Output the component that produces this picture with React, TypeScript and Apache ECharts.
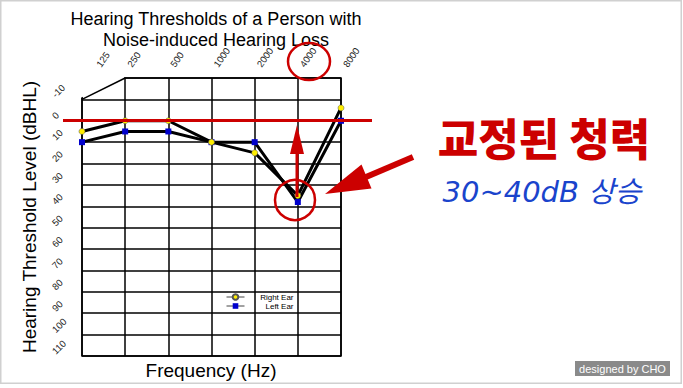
import React, { useEffect, useRef } from "react";
import * as echarts from "echarts";

// ---- data ----
const frequencies = ["125", "250", "500", "1000", "2000", "4000", "8000"];
const rightEar = [5, 0, 0, 10, 15, 35, -6];
const leftEar = [10, 5, 5, 10, 10, 38, 0];
const yMin = -20;
const yMax = 110;
const yStep = 10;
// top-left chamfer of the audiogram frame: [xIndexFrom, yTop, xIndexTo, yMid]
const chamfer = [[0, -20, 1, -10]];

const titleText = "Hearing Thresholds of a Person with\nNoise-induced Hearing Loss";
const yName = "Hearing Threshold Level (dBHL)";
const xName = "Frequency (Hz)";
const noteMain = "교정된 청력";
const noteSub = "30~40dB 상승";
const credit = "designed by CHO";

const RED = "#cc0000";
const ARIAL = "Liberation Sans, Arial, sans-serif";

export default function App() {
  const ref = useRef<HTMLDivElement>(null);

  useEffect(() => {
    if (!ref.current) return;
    const chart = echarts.init(ref.current, null, { renderer: "svg" });

    const txt = (text: string, x: number, y: number, extra: any, z = 100) => ({
      type: "text",
      x,
      y,
      z,
      silent: true,
      style: {
        text,
        align: "center",
        verticalAlign: "middle",
        textAlign: "center",
        textVerticalAlign: "middle",
        ...extra,
      },
    });

    chart.setOption({
      animation: false,
      backgroundColor: "#ffffff",
      title: {
        text: titleText,
        left: 211,
        top: 3,
        textAlign: "center",
        textStyle: {
          fontFamily: ARIAL,
          fontSize: 18,
          fontWeight: "normal",
          color: "#000",
          lineHeight: 21,
        },
      },
      legend: {
        data: ["Right Ear", "Left Ear"],
        orient: "vertical",
        left: 226,
        top: 293,
        itemWidth: 18,
        itemHeight: 7,
        itemGap: 1,
        padding: 0,
        align: "left",
        lineStyle: { width: 1, color: "#444" },
        formatter: (name: string) => `{t|${name}}`,
        textStyle: {
          fontFamily: ARIAL,
          fontSize: 8,
          color: "#000",
          rich: {
            t: { width: 44, align: "right", fontSize: 8, fontFamily: ARIAL, color: "#000" },
          },
        },
      },
      grid: {
        left: 82,
        top: 78,
        width: 259,
        height: 278,
        show: true,
        borderColor: "#000",
        borderWidth: 1.5,
      },
      xAxis: {
        type: "category",
        data: frequencies,
        position: "top",
        boundaryGap: false,
        axisLine: { show: false },
        axisTick: { show: false },
        splitLine: { show: true, lineStyle: { color: "#000", width: 1.5 } },
        axisLabel: {
          interval: 0,
          rotate: 55,
          align: "left",
          verticalAlign: "top",
          margin: 15,
          fontFamily: ARIAL,
          fontSize: 9.5,
          color: "#222",
          formatter: (v: string, i: number) => (i === 0 ? `{f|${v}}` : `{n|${v}}`),
          rich: {
            f: { padding: [10, 0, 0, 7], fontFamily: ARIAL, fontSize: 9.5, color: "#222" },
            n: { fontFamily: ARIAL, fontSize: 9.5, color: "#222" },
          },
        },
      },
      yAxis: {
        type: "value",
        inverse: true,
        min: yMin,
        max: yMax,
        interval: yStep,
        name: yName,
        nameLocation: "middle",
        nameRotate: 90,
        nameGap: 43,
        nameTextStyle: { fontFamily: ARIAL, fontSize: 19, color: "#000" },
        axisLine: { show: false },
        axisTick: { show: false },
        splitLine: { show: true, lineStyle: { color: "#000", width: 1.5 } },
        axisLabel: {
          rotate: 45,
          align: "left",
          verticalAlign: "bottom",
          margin: 25,
          showMinLabel: true,
          showMaxLabel: true,
          fontFamily: ARIAL,
          fontSize: 9.5,
          color: "#222",
          formatter: (v: number) => (v === yMin ? "" : String(v)),
        },
      },
      series: [
        {
          type: "custom",
          name: "frame",
          silent: true,
          z: 1,
          data: chamfer,
          renderItem: (_p: any, api: any) => {
            const a = api.coord([api.value(0), api.value(1)]);
            const b = api.coord([api.value(2), api.value(1)]);
            const m = api.coord([api.value(0), api.value(3)]);
            return {
              type: "group",
              children: [
                {
                  type: "polygon",
                  shape: {
                    points: [
                      [a[0] - 3, a[1] - 3],
                      [b[0] - 0.9, b[1] - 3],
                      [b[0] - 0.9, b[1] + 1],
                      [m[0] - 3, m[1] - 1],
                    ],
                  },
                  style: { fill: "#fff" },
                },
                {
                  type: "line",
                  shape: { x1: b[0], y1: b[1], x2: m[0], y2: m[1] },
                  style: { stroke: "#000", lineWidth: 1.5 },
                },
              ],
            };
          },
        },
        {
          type: "line",
          name: "Left Ear",
          data: leftEar,
          z: 3,
          symbol: "rect",
          symbolSize: 6,
          lineStyle: { color: "#000", width: 3 },
          itemStyle: { color: "#0000cc" },
        },
        {
          type: "line",
          name: "Right Ear",
          data: rightEar,
          z: 4,
          symbol: "circle",
          symbolSize: 6,
          lineStyle: { color: "#000", width: 3 },
          itemStyle: { color: "#ffee00", borderColor: "#555", borderWidth: 0.5 },
        },
      ],
      graphic: [
        {
          type: "rect",
          z: 0,
          silent: true,
          shape: { x: 0.75, y: 0.75, width: 680.5, height: 382.5 },
          style: { fill: "none", stroke: "#d0d0d0", lineWidth: 1.5 },
        },
        {
          type: "line",
          z: 100,
          silent: true,
          shape: { x1: 63, y1: 120.5, x2: 372, y2: 120.5 },
          style: { stroke: RED, lineWidth: 3 },
        },
        {
          type: "ellipse",
          z: 100,
          silent: true,
          shape: { cx: 309, cy: 61.5, rx: 21, ry: 18.5 },
          style: { fill: "none", stroke: RED, lineWidth: 2.5 },
        },
        {
          type: "circle",
          z: 100,
          silent: true,
          shape: { cx: 295, cy: 200, r: 20 },
          style: { fill: "none", stroke: RED, lineWidth: 2.5 },
        },
        {
          type: "line",
          z: 100,
          silent: true,
          shape: { x1: 297, y1: 197, x2: 297, y2: 150 },
          style: { stroke: RED, lineWidth: 3 },
        },
        {
          type: "polygon",
          z: 100,
          silent: true,
          shape: { points: [[297, 125], [290, 154], [304, 154]] },
          style: { fill: RED },
        },
        {
          type: "line",
          z: 100,
          silent: true,
          shape: { x1: 413, y1: 157, x2: 366, y2: 177 },
          style: { stroke: RED, lineWidth: 6 },
        },
        {
          type: "polygon",
          z: 100,
          silent: true,
          shape: { points: [[325, 194], [361.5, 164.6], [371.5, 188.6]] },
          style: { fill: RED },
        },
        txt(noteMain, 544, 137, {
          fill: RED,
          fontFamily: "Noto Sans CJK KR, sans-serif",
          fontWeight: 900,
          fontSize: 44,
        }),
        txt(noteSub, 542, 192, {
          fill: "#1a44cc",
          fontFamily: "DejaVu Sans, Noto Sans CJK KR, sans-serif",
          fontStyle: "italic",
          fontSize: 29,
        }),
        txt(xName, 211, 370, { fill: "#000", fontFamily: ARIAL, fontSize: 19 }),
        {
          type: "rect",
          z: 100,
          silent: true,
          shape: { x: 575, y: 361, width: 95, height: 15 },
          style: { fill: "#8a8a8a" },
        },
        txt(credit, 622.5, 368.5, { fill: "#ffffff", fontFamily: ARIAL, fontSize: 11 }, 101),
      ],
    });

    return () => chart.dispose();
  }, []);

  return (
    <div
      ref={ref}
      style={{ position: "absolute", left: 0, top: 0, width: 683, height: 388, background: "#fff" }}
    />
  );
}
